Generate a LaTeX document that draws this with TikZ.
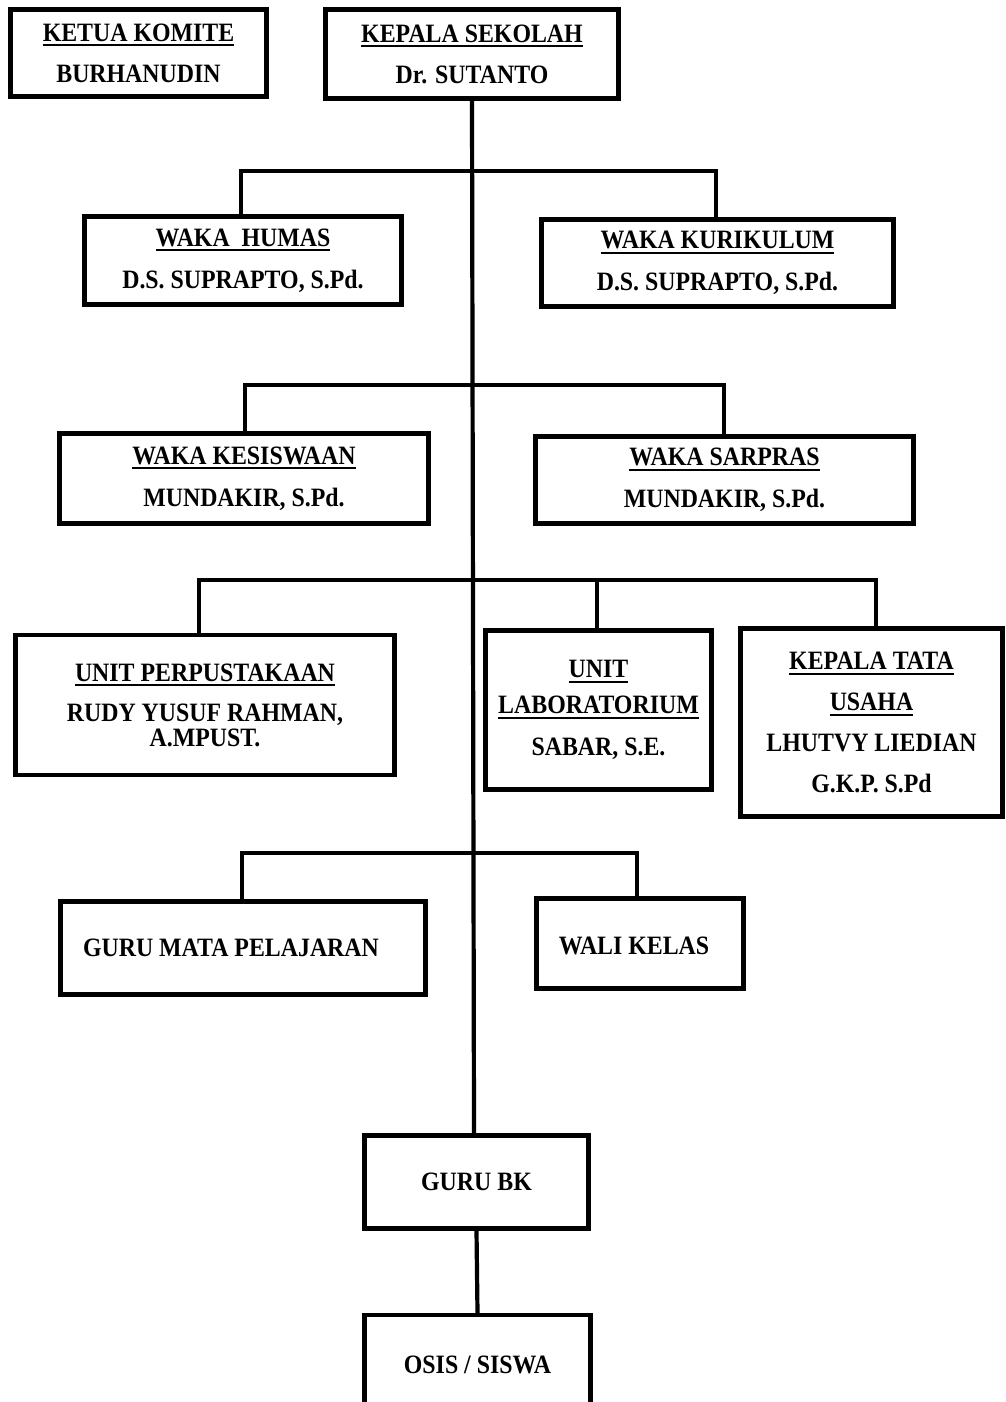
\documentclass[tikz,border=0pt]{standalone}
\usepackage{fontspec}
\setmainfont{Liberation Serif}[FakeStretch=0.9]
\newcommand\myul[1]{\setbox0\hbox{#1}\rlap{\vrule height -3pt depth 5pt width \wd0}\box0}
\begin{document}
\begin{tikzpicture}[x=1pt,y=-1pt,
  box/.style={draw, line width=4.2pt, inner sep=0pt, align=center,
    font=\fontsize{26.5}{25}\selectfont\bfseries},
  txt/.style={align=center, inner sep=0pt,
    font=\fontsize{26.5}{25}\selectfont\bfseries},
  link/.style={line width=4.2pt, line cap=rect}]
\useasboundingbox (0,0) rectangle (1006,1402);

\node[box, minimum width=256, minimum height=87] (ketua) at (138.5,53)
  {\myul{KETUA KOMITE}\\[16pt]BURHANUDIN};
\node[box, minimum width=293, minimum height=89] (kepala) at (472,54)
  {\myul{KEPALA SEKOLAH}\\[16pt]Dr. SUTANTO};

\node[box, minimum width=317, minimum height=88] (humas) at (243,260.5)
  {\myul{WAKA\ \ HUMAS}\\[17pt]D.S. SUPRAPTO, S.Pd.};
\node[box, minimum width=352, minimum height=87] (kurikulum) at (717.5,263)
  {\myul{WAKA KURIKULUM}\\[17pt]D.S. SUPRAPTO, S.Pd.};

\node[box, minimum width=369, minimum height=90] (kesiswaan) at (244,478.5)
  {\myul{WAKA KESISWAAN}\\[17pt]MUNDAKIR, S.Pd.};
\node[box, minimum width=378, minimum height=87] (sarpras) at (724.5,480)
  {\myul{WAKA SARPRAS}\\[17pt]MUNDAKIR, S.Pd.};

\node[box, minimum width=379, minimum height=140] (perpus) at (205,705)
  {\myul{UNIT PERPUSTAKAAN}\\[15pt]RUDY YUSUF RAHMAN,\\A.MPUST.};
\node[box, minimum width=226, minimum height=159] (lab) at (598.5,710)
  {\myul{UNIT}\\[11pt]\myul{LABORATORIUM}\\[17pt]SABAR, S.E.};
\node[box, minimum width=262, minimum height=188] (tu) at (871.5,722.5)
  {\myul{KEPALA TATA}\\[16pt]\myul{USAHA}\\[16pt]LHUTVY LIEDIAN\\[16pt]G.K.P. S.Pd};

\node[box, minimum width=365, minimum height=93,
  label={[txt, xshift=-12pt]center:{GURU MATA PELAJARAN}}]
  (mapel) at (243,948) {};
\node[box, minimum width=207, minimum height=90,
  label={[txt, xshift=-6pt, yshift=-2pt]center:{WALI KELAS}}]
  (wali) at (640,943.5) {};

\node[box, minimum width=224, minimum height=93] (gurubk) at (476.5,1182) {GURU BK};
\node[box, minimum width=226, minimum height=100] (osis) at (477.5,1365) {OSIS / SISWA};

% trunk
\draw[link] (kepala.south) -- ([xshift=-2.5pt]gurubk.north);
\draw[link] (gurubk.south) -- (osis.north);

\coordinate (b1) at (472,171);
\coordinate (b2) at (472.5,385);
\coordinate (b3) at (473,580);
\coordinate (b4) at (473.5,853);

\draw[link] ([xshift=-2pt]humas.north) |- (b1) -| ([xshift=-1.5pt]kurikulum.north);
\draw[link] ([xshift=1pt]kesiswaan.north) |- (b2) -| ([xshift=-0.5pt]sarpras.north);
\draw[link] ([xshift=-6pt]perpus.north) |- (b3) -| ([xshift=4.5pt]tu.north);
\draw[link] ([xshift=-1.5pt]lab.north) -- ([xshift=-1.5pt]lab.north |- b3);
\draw[link] ([xshift=-1pt]mapel.north) |- (b4) -| ([xshift=-3pt]wali.north);
\end{tikzpicture}
\end{document}
